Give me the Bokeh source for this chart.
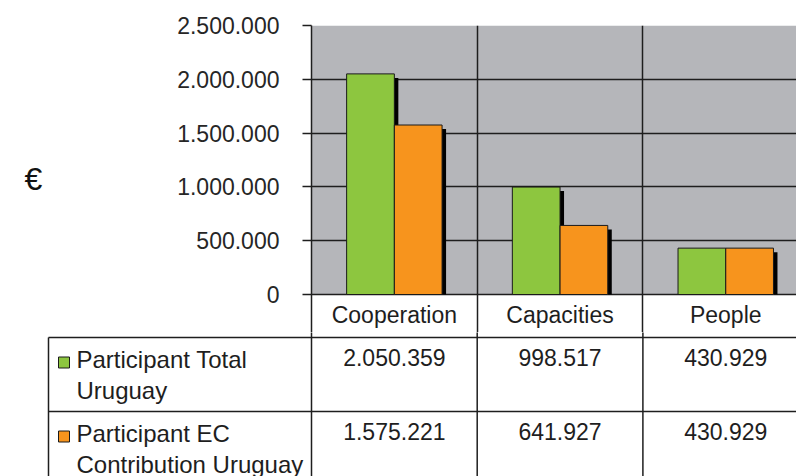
from bokeh.plotting import figure
from bokeh.models import Range1d, FixedTicker, Grid, ColumnDataSource, BoxAnnotation
from bokeh.transform import dodge
from bokeh.layouts import column
from bokeh.embed import file_html
from bokeh.resources import INLINE
from bokeh.core.properties import value

# ---------------- data ----------------
categories = ["Cooperation", "Capacities", "People"]
series_names = ["Participant Total Uruguay", "Participant EC Contribution Uruguay"]
series_label_lines = [["Participant Total", "Uruguay"],
                      ["Participant EC", "Contribution Uruguay"]]
total_values = [2050359, 998517, 430929]
ec_values = [1575221, 641927, 430929]
series_colors = ["#8DC63F", "#F7941D"]
y_ticks = [0, 500000, 1000000, 1500000, 2000000, 2500000]
y_unit_label = "€"


def fmt(v):
    return f"{v:,}".replace(",", ".")


# ---------------- layout constants ----------------
FONT_NAME = "Liberation Sans"
FONT = value(FONT_NAME)
FS = "23px"
FS_LEG = "24px"
TXT = "#1e1e1e"
LINE = "#1e1e1e"
W = 165.7                      # px per category
Y_MAX = 2500000
PX_H = 269                     # px for 0..Y_MAX
U_PER_PX = Y_MAX / PX_H
LAYOUT_W = 796
FRAME_L = 311                  # page x of category 0
FRAME_T = 25                   # page y of Y_MAX
ZERO_Y = 294                   # page y of 0
TOP_H = 332                    # page y where the chart figure ends
TABLE_H = 476 - TOP_H
TABLE_FRAME_L = 46
x_end = (LAYOUT_W - FRAME_L) / W
centers = [i + 0.5 for i in range(len(categories))]

# ---------------- chart (with the category header row) ----------------
p = figure(width=LAYOUT_W, height=TOP_H,
           x_range=Range1d(0, x_end),
           y_range=Range1d(-(TOP_H - ZERO_Y) * U_PER_PX, Y_MAX),
           x_axis_location=None, y_axis_location="left",
           toolbar_location=None, output_backend="svg",
           min_border_left=FRAME_L, min_border_right=0,
           min_border_top=FRAME_T, min_border_bottom=0,
           background_fill_color="white", border_fill_color="white",
           outline_line_color=None, frame_align=False)

p.add_layout(BoxAnnotation(bottom=0, fill_color="#B5B6BA", fill_alpha=1,
                           line_color=None, level="image"))
p.xgrid.visible = False
p.ygrid.ticker = FixedTicker(ticks=y_ticks[:-1])
p.ygrid.grid_line_color = LINE
p.ygrid.grid_line_width = 1.5
p.add_layout(Grid(dimension=1, ticker=FixedTicker(ticks=y_ticks[-1:]),
                  grid_line_color="#D6D6D6", grid_line_width=2))
p.add_layout(Grid(dimension=0, ticker=FixedTicker(ticks=list(range(len(categories)))),
                  grid_line_color=LINE, grid_line_width=1.5))

ax = p.yaxis[0]
ax.ticker = FixedTicker(ticks=y_ticks)
ax.major_label_overrides = {t: fmt(t) for t in y_ticks}
ax.major_label_text_font = FONT_NAME
ax.major_label_text_font_size = FS
ax.major_label_text_color = "#262626"
ax.major_label_standoff = 23
ax.major_tick_out = 9
ax.major_tick_in = 0
ax.minor_tick_out = 0
ax.minor_tick_in = 0
ax.major_tick_line_color = LINE
ax.major_tick_line_width = 1.5
ax.axis_line_color = LINE
ax.axis_line_width = 1.5
ax.axis_label = y_unit_label
ax.axis_label_orientation = "horizontal"
ax.axis_label_text_font = FONT_NAME
ax.axis_label_text_font_size = "32px"
ax.axis_label_text_font_style = "normal"
ax.axis_label_text_color = "#111111"
ax.axis_label_text_baseline = "bottom"
ax.axis_label_standoff = 132

BAR_W = 0.288
SH_DX = 4 / W
SH_DY = 4 * U_PER_PX
src = ColumnDataSource(dict(
    x=centers,
    total=total_values,
    ec=ec_values,
    total_sh=[v - SH_DY for v in total_values],
    ec_sh=[v - SH_DY for v in ec_values],
))

for field, off in (("total_sh", -BAR_W / 2), ("ec_sh", BAR_W / 2)):
    p.vbar(x=dodge("x", off + SH_DX, range=p.x_range), top=field, bottom=0,
           width=BAR_W, source=src, fill_color="black", line_color=None)
for field, off, col in (("total", -BAR_W / 2, series_colors[0]),
                        ("ec", BAR_W / 2, series_colors[1])):
    p.vbar(x=dodge("x", off, range=p.x_range), top=field, bottom=0,
           width=BAR_W, source=src, fill_color=col,
           line_color="#1a1a1a", line_width=1)

# category header row of the data table (just below the zero line)
p.text(x=centers, y=[-20 * U_PER_PX] * len(categories), text=categories,
       text_align="center", text_baseline="alphabetic",
       text_font=FONT, text_font_size=FS, text_color=TXT)

# ---------------- data table rows (y = page px below the zero line) ----------------
t = figure(width=LAYOUT_W, height=TABLE_H,
           x_range=Range1d((TABLE_FRAME_L - FRAME_L) / W, x_end),
           y_range=Range1d(476 - ZERO_Y, TOP_H - ZERO_Y),
           x_axis_location=None, y_axis_location=None,
           toolbar_location=None, output_backend="svg",
           min_border_left=TABLE_FRAME_L, min_border_right=0,
           min_border_top=0, min_border_bottom=0,
           background_fill_color="white", border_fill_color="white",
           outline_line_color=None, frame_align=False)
t.grid.visible = False

x_left = (48 - FRAME_L) / W
x_text = (76 - FRAME_L) / W
x_swatch = (63.5 - FRAME_L) / W
HEADER_H = 43
ROW_H = 74
row_tops = [HEADER_H + i * ROW_H for i in range(len(series_names))]
y_bot = 476 - ZERO_Y + 10

bounds = list(range(len(categories) + 1))
t.segment(x0=bounds, y0=[0] * len(bounds), x1=bounds, y1=[y_bot] * len(bounds),
          line_color=LINE, line_width=1.5)
t.segment(x0=[x_left], y0=[HEADER_H], x1=[x_left], y1=[y_bot],
          line_color=LINE, line_width=1.5)
t.segment(x0=[x_left] * len(row_tops), y0=row_tops,
          x1=[x_end + 1] * len(row_tops), y1=row_tops,
          line_color=LINE, line_width=1.5)

for r, (vals, col, lines) in enumerate(zip([total_values, ec_values],
                                            series_colors, series_label_lines)):
    top = row_tops[r]
    t.text(x=centers, y=[top + 20] * len(vals), text=[fmt(v) for v in vals],
           text_align="center", text_baseline="alphabetic",
           text_font=FONT, text_font_size=FS, text_color=TXT)
    t.text(x=[x_text] * len(lines), y=[top + 22 + 31 * k for k in range(len(lines))],
           text=lines, text_align="left", text_baseline="alphabetic",
           text_font=FONT, text_font_size=FS_LEG, text_color=TXT)
    t.rect(x=[x_swatch], y=[top + 25], width=11, height=11,
           width_units="screen", height_units="screen",
           fill_color=col, line_color="#1a1a1a", line_width=1)

layout = column(p, t, spacing=0)
open("out.html", "w").write(file_html(layout, INLINE))
